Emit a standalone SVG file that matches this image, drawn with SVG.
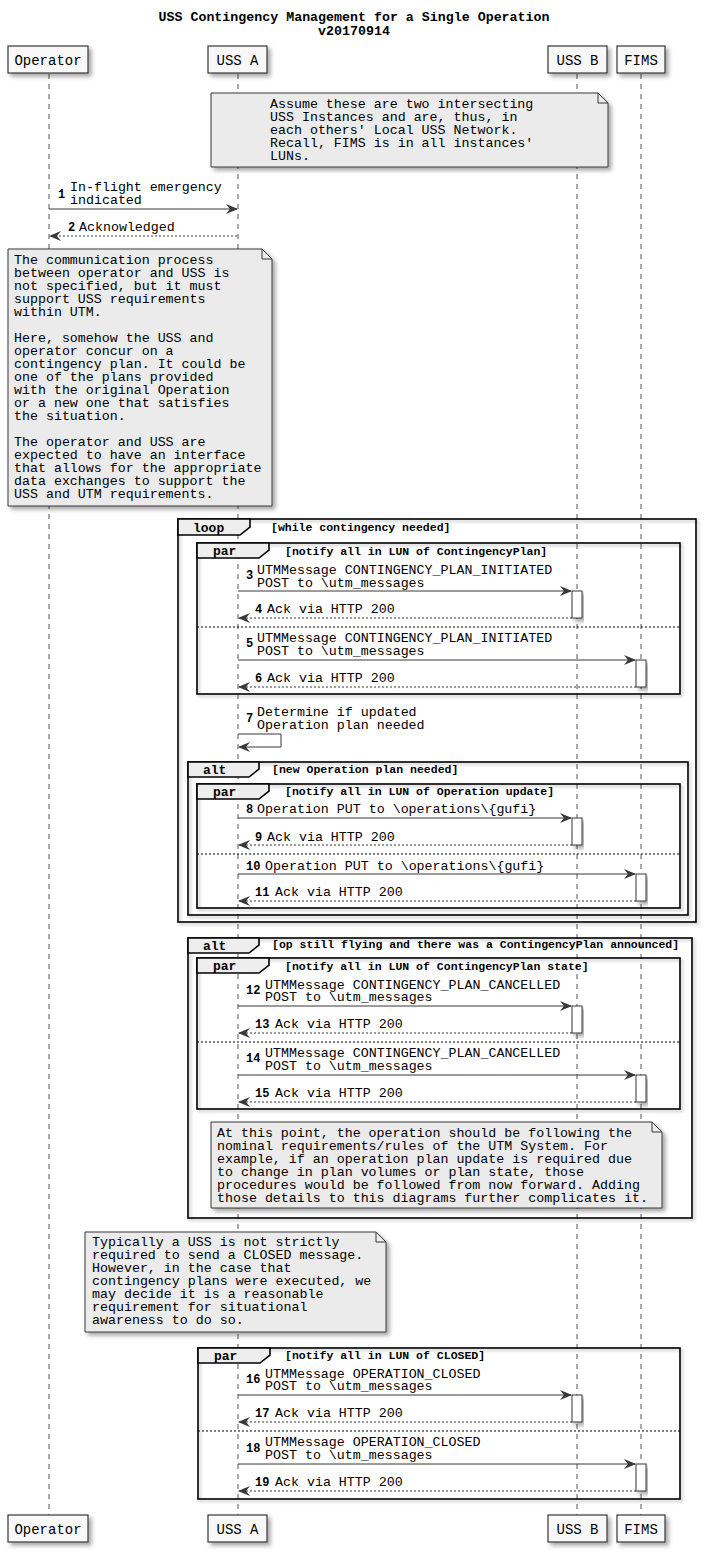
<svg xmlns="http://www.w3.org/2000/svg" width="707" height="1553" viewBox="0 0 707 1553">
<style>
text{font-family:"Liberation Mono","Courier New",monospace;fill:#000}
.title{font-size:13.3px;font-weight:bold;text-anchor:middle}
.pt{font-size:14px;text-anchor:middle}
.box{fill:#F8F8F8;stroke:#383838;stroke-width:1.2}
.life{stroke:#555;stroke-width:1;stroke-dasharray:5,5}
.note{fill:#EBEBEB;stroke:#383838;stroke-width:1}
.fold{fill:none;stroke:#383838;stroke-width:1}
.nt{font-size:13.3px}
.msg{stroke:#383838;stroke-width:1;fill:none}
.ret{stroke:#383838;stroke-width:1;fill:none;stroke-dasharray:2,2}
.mt{font-size:13.3px}
.sn{font-size:12px;font-weight:bold}
.act{fill:#FFFFFF;stroke:#383838;stroke-width:1}
.frame{fill:none;stroke:#000;stroke-width:1.6}
.tab{fill:#EEEEEE;stroke:#000;stroke-width:1.6}
.fl{font-size:13px;font-weight:bold}
.fc{font-size:11.5px;font-weight:bold}
.div{stroke:#000;stroke-width:1;stroke-dasharray:2,2}
</style>
<defs>
<filter id="sh" x="-10%" y="-10%" width="130%" height="140%"><feDropShadow dx="3" dy="3" stdDeviation="2" flood-color="#000" flood-opacity="0.35"/></filter>
<filter id="shf" x="-5%" y="-5%" width="110%" height="110%"><feDropShadow dx="2" dy="2" stdDeviation="1.5" flood-color="#000" flood-opacity="0.25"/></filter>
<marker id="ah" viewBox="0 0 12 10" refX="11" refY="5" markerWidth="12" markerHeight="10" markerUnits="userSpaceOnUse" orient="auto"><path d="M0,0 L12,5 L0,10 L4,5 Z" fill="#383838"/></marker>
</defs>
<rect width="707" height="1553" fill="#FFFFFF"/>
<g id="title">
<text class="title" x="354" y="21">USS Contingency Management for a Single Operation</text>
<text class="title" x="354" y="35">v20170914</text>
</g>
<g id="lifelines">
<line class="life" x1="49" y1="74" x2="49" y2="1515"/>
<line class="life" x1="238" y1="74" x2="238" y2="1515"/>
<line class="life" x1="577" y1="74" x2="577" y2="1515"/>
<line class="life" x1="641" y1="74" x2="641" y2="1515"/>
</g>
<g id="p-operator">
<rect class="box" filter="url(#sh)" x="8" y="46" width="80" height="27"/>
<text class="pt" x="48" y="65">Operator</text>
<rect class="box" filter="url(#sh)" x="8" y="1515" width="80" height="27"/>
<text class="pt" x="48" y="1534">Operator</text>
</g>
<g id="p-ussa">
<rect class="box" filter="url(#sh)" x="208" y="46" width="59" height="27"/>
<text class="pt" x="237.5" y="65">USS A</text>
<rect class="box" filter="url(#sh)" x="208" y="1515" width="59" height="27"/>
<text class="pt" x="237.5" y="1534">USS A</text>
</g>
<g id="p-ussb">
<rect class="box" filter="url(#sh)" x="548" y="46" width="59" height="27"/>
<text class="pt" x="577.5" y="65">USS B</text>
<rect class="box" filter="url(#sh)" x="548" y="1515" width="59" height="27"/>
<text class="pt" x="577.5" y="1534">USS B</text>
</g>
<g id="p-fims">
<rect class="box" filter="url(#sh)" x="617" y="46" width="48" height="27"/>
<text class="pt" x="641" y="65">FIMS</text>
<rect class="box" filter="url(#sh)" x="617" y="1515" width="48" height="27"/>
<text class="pt" x="641" y="1534">FIMS</text>
</g>
<g id="frames">
<g id="f-loop">
<rect class="frame" filter="url(#shf)" x="178" y="519" width="518" height="403"/>
<path class="tab" d="M178,519 H250 V527 L240,535 H178 Z"/>
<text class="fl" x="193" y="532">loop</text>
<text class="fc" x="271" y="531">[while contingency needed]</text>
</g>
<g id="f-par1">
<rect class="frame" filter="url(#shf)" x="197" y="543" width="483" height="151"/>
<path class="tab" d="M197,543 H269 V550 L259,558 H197 Z"/>
<text class="fl" x="213" y="555">par</text>
<text class="fc" x="285" y="555">[notify all in LUN of ContingencyPlan]</text>
<line class="div" x1="197" y1="627" x2="680" y2="627"/>
</g>
<g id="f-alt1">
<rect class="frame" filter="url(#shf)" x="188" y="762" width="500" height="153"/>
<path class="tab" d="M188,762 H259 V769 L249,777 H188 Z"/>
<text class="fl" x="203" y="774">alt</text>
<text class="fc" x="272" y="773">[new Operation plan needed]</text>
</g>
<g id="f-par2">
<rect class="frame" filter="url(#shf)" x="197" y="784" width="483" height="124"/>
<path class="tab" d="M197,784 H269 V791 L259,799 H197 Z"/>
<text class="fl" x="213" y="796">par</text>
<text class="fc" x="285" y="795">[notify all in LUN of Operation update]</text>
<line class="div" x1="197" y1="854" x2="680" y2="854"/>
</g>
<g id="f-alt2">
<rect class="frame" filter="url(#shf)" x="188" y="938" width="504" height="280"/>
<path class="tab" d="M188,938 H259 V945 L249,953 H188 Z"/>
<text class="fl" x="203" y="950">alt</text>
<text class="fc" x="272" y="948">[op still flying and there was a ContingencyPlan announced]</text>
</g>
<g id="f-par3">
<rect class="frame" filter="url(#shf)" x="197" y="958" width="483" height="151"/>
<path class="tab" d="M197,958 H269 V965 L259,973 H197 Z"/>
<text class="fl" x="213" y="970">par</text>
<text class="fc" x="285" y="970">[notify all in LUN of ContingencyPlan state]</text>
<line class="div" x1="197" y1="1042" x2="680" y2="1042"/>
</g>
<g id="f-par4">
<rect class="frame" filter="url(#shf)" x="198" y="1348" width="482" height="151"/>
<path class="tab" d="M198,1348 H270 V1355 L260,1363 H198 Z"/>
<text class="fl" x="214" y="1360">par</text>
<text class="fc" x="285" y="1359">[notify all in LUN of CLOSED]</text>
<line class="div" x1="198" y1="1431" x2="680" y2="1431"/>
</g>
</g>
<g id="note1">
<path class="note" filter="url(#sh)" d="M211,93 H598 L608,103 V167 H211 Z"/>
<path class="fold" d="M598,93 V103 H608"/>
<text class="nt" x="270" y="108">Assume these are two intersecting</text>
<text class="nt" x="270" y="121">USS Instances and are, thus, in</text>
<text class="nt" x="270" y="134">each others' Local USS Network.</text>
<text class="nt" x="270" y="147">Recall, FIMS is in all instances'</text>
<text class="nt" x="270" y="160">LUNs.</text>
</g>
<g id="note2">
<path class="note" filter="url(#sh)" d="M8,249 H262 L272,259 V506 H8 Z"/>
<path class="fold" d="M262,249 V259 H272"/>
<text class="nt" x="14" y="264">The communication process</text>
<text class="nt" x="14" y="277">between operator and USS is</text>
<text class="nt" x="14" y="290">not specified, but it must</text>
<text class="nt" x="14" y="303">support USS requirements</text>
<text class="nt" x="14" y="316">within UTM.</text>
<text class="nt" x="14" y="342">Here, somehow the USS and</text>
<text class="nt" x="14" y="355">operator concur on a</text>
<text class="nt" x="14" y="368">contingency plan. It could be</text>
<text class="nt" x="14" y="381">one of the plans provided</text>
<text class="nt" x="14" y="394">with the original Operation</text>
<text class="nt" x="14" y="407">or a new one that satisfies</text>
<text class="nt" x="14" y="420">the situation.</text>
<text class="nt" x="14" y="446">The operator and USS are</text>
<text class="nt" x="14" y="459">expected to have an interface</text>
<text class="nt" x="14" y="472">that allows for the appropriate</text>
<text class="nt" x="14" y="485">data exchanges to support the</text>
<text class="nt" x="14" y="498">USS and UTM requirements.</text>
</g>
<g id="note3">
<path class="note" filter="url(#sh)" d="M211,1122 H652 L662,1132 V1208 H211 Z"/>
<path class="fold" d="M652,1122 V1132 H662"/>
<text class="nt" x="217" y="1137">At this point, the operation should be following the</text>
<text class="nt" x="217" y="1150">nominal requirements/rules of the UTM System. For</text>
<text class="nt" x="217" y="1163">example, if an operation plan update is required due</text>
<text class="nt" x="217" y="1176">to change in plan volumes or plan state, those</text>
<text class="nt" x="217" y="1189">procedures would be followed from now forward. Adding</text>
<text class="nt" x="217" y="1202">those details to this diagrams further complicates it.</text>
</g>
<g id="note4">
<path class="note" filter="url(#sh)" d="M85,1232 H376 L386,1242 V1332 H85 Z"/>
<path class="fold" d="M376,1232 V1242 H386"/>
<text class="nt" x="92" y="1246">Typically a USS is not strictly</text>
<text class="nt" x="92" y="1259">required to send a CLOSED message.</text>
<text class="nt" x="92" y="1272">However, in the case that</text>
<text class="nt" x="92" y="1285">contingency plans were executed, we</text>
<text class="nt" x="92" y="1298">may decide it is a reasonable</text>
<text class="nt" x="92" y="1311">requirement for situational</text>
<text class="nt" x="92" y="1324">awareness to do so.</text>
</g>
<g id="activations">
<rect class="act" filter="url(#sh)" x="572" y="591" width="10" height="27"/>
<rect class="act" filter="url(#sh)" x="636" y="660" width="10" height="27"/>
<rect class="act" filter="url(#sh)" x="572" y="818" width="10" height="27"/>
<rect class="act" filter="url(#sh)" x="636" y="874" width="10" height="27"/>
<rect class="act" filter="url(#sh)" x="572" y="1006" width="10" height="27"/>
<rect class="act" filter="url(#sh)" x="636" y="1075" width="10" height="27"/>
<rect class="act" filter="url(#sh)" x="572" y="1395" width="10" height="27"/>
<rect class="act" filter="url(#sh)" x="636" y="1464" width="10" height="27"/>
</g>
<g id="connectors">
<line class="msg" marker-end="url(#ah)" x1="49" y1="209" x2="237" y2="209"/>
<line class="ret" marker-end="url(#ah)" x1="237" y1="236" x2="50" y2="236"/>
<line class="msg" marker-end="url(#ah)" x1="238" y1="591" x2="571" y2="591"/>
<line class="ret" marker-end="url(#ah)" x1="572" y1="618" x2="239" y2="618"/>
<line class="msg" marker-end="url(#ah)" x1="238" y1="660" x2="635" y2="660"/>
<line class="ret" marker-end="url(#ah)" x1="636" y1="687" x2="239" y2="687"/>
<path class="msg" marker-end="url(#ah)" d="M238,734 H281 V747 H239"/>
<line class="msg" marker-end="url(#ah)" x1="238" y1="818" x2="571" y2="818"/>
<line class="ret" marker-end="url(#ah)" x1="572" y1="845" x2="239" y2="845"/>
<line class="msg" marker-end="url(#ah)" x1="238" y1="874" x2="635" y2="874"/>
<line class="ret" marker-end="url(#ah)" x1="636" y1="901" x2="239" y2="901"/>
<line class="msg" marker-end="url(#ah)" x1="238" y1="1006" x2="571" y2="1006"/>
<line class="ret" marker-end="url(#ah)" x1="572" y1="1033" x2="239" y2="1033"/>
<line class="msg" marker-end="url(#ah)" x1="238" y1="1075" x2="635" y2="1075"/>
<line class="ret" marker-end="url(#ah)" x1="636" y1="1102" x2="239" y2="1102"/>
<line class="msg" marker-end="url(#ah)" x1="238" y1="1395" x2="571" y2="1395"/>
<line class="ret" marker-end="url(#ah)" x1="572" y1="1422" x2="239" y2="1422"/>
<line class="msg" marker-end="url(#ah)" x1="238" y1="1464" x2="635" y2="1464"/>
<line class="ret" marker-end="url(#ah)" x1="636" y1="1491" x2="239" y2="1491"/>
</g>
<g id="labels">
<text class="sn" x="58" y="198">1</text><text class="mt" x="70" y="191">In-flight emergency</text><text class="mt" x="70" y="204">indicated</text>
<text class="sn" x="68" y="231">2</text><text class="mt" x="79" y="231">Acknowledged</text>
<text class="sn" x="246" y="579">3</text><text class="mt" x="257" y="574">UTMMessage CONTINGENCY_PLAN_INITIATED</text><text class="mt" x="257" y="587">POST to \utm_messages</text>
<text class="sn" x="255" y="613">4</text><text class="mt" x="267" y="613">Ack via HTTP 200</text>
<text class="sn" x="246" y="647">5</text><text class="mt" x="257" y="642">UTMMessage CONTINGENCY_PLAN_INITIATED</text><text class="mt" x="257" y="655">POST to \utm_messages</text>
<text class="sn" x="255" y="682">6</text><text class="mt" x="267" y="682">Ack via HTTP 200</text>
<text class="sn" x="246" y="722">7</text><text class="mt" x="257" y="716">Determine if updated</text><text class="mt" x="257" y="729">Operation plan needed</text>
<text class="sn" x="246" y="813">8</text><text class="mt" x="257" y="813">Operation PUT to \operations\{gufi}</text>
<text class="sn" x="255" y="841">9</text><text class="mt" x="267" y="841">Ack via HTTP 200</text>
<text class="sn" x="246" y="870">10</text><text class="mt" x="265" y="870">Operation PUT to \operations\{gufi}</text>
<text class="sn" x="255" y="896">11</text><text class="mt" x="275" y="896">Ack via HTTP 200</text>
<text class="sn" x="246" y="994">12</text><text class="mt" x="265" y="989">UTMMessage CONTINGENCY_PLAN_CANCELLED</text><text class="mt" x="265" y="1001">POST to \utm_messages</text>
<text class="sn" x="255" y="1028">13</text><text class="mt" x="275" y="1028">Ack via HTTP 200</text>
<text class="sn" x="246" y="1062">14</text><text class="mt" x="265" y="1057">UTMMessage CONTINGENCY_PLAN_CANCELLED</text><text class="mt" x="265" y="1070">POST to \utm_messages</text>
<text class="sn" x="255" y="1097">15</text><text class="mt" x="275" y="1097">Ack via HTTP 200</text>
<text class="sn" x="246" y="1383">16</text><text class="mt" x="265" y="1378">UTMMessage OPERATION_CLOSED</text><text class="mt" x="265" y="1390">POST to \utm_messages</text>
<text class="sn" x="255" y="1417">17</text><text class="mt" x="275" y="1417">Ack via HTTP 200</text>
<text class="sn" x="246" y="1452">18</text><text class="mt" x="265" y="1446">UTMMessage OPERATION_CLOSED</text><text class="mt" x="265" y="1459">POST to \utm_messages</text>
<text class="sn" x="255" y="1486">19</text><text class="mt" x="275" y="1486">Ack via HTTP 200</text>
</g>
</svg>
